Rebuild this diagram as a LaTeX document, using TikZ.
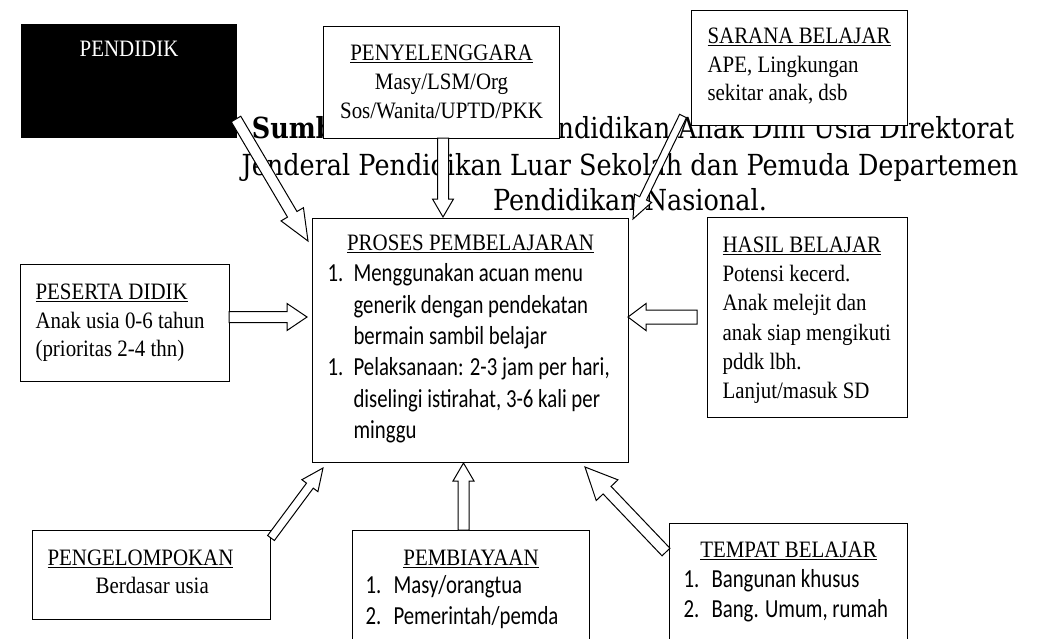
\documentclass[tikz,border=0pt]{standalone}
\usepackage{fontspec}
\setmainfont{Liberation Serif}[FakeStretch=0.89]
\newfontfamily\calfont{Carlito}[FakeStretch=0.8]
\newfontfamily\srcfont{DejaVu Serif}[FakeStretch=0.88]
\usetikzlibrary{calc}
\newcommand\tms{\fontsize{23.5}{29}\selectfont}
\newcommand\clb{\calfont\fontsize{26}{31}\selectfont}
\newcommand\srcsize{\srcfont\fontsize{29}{36}\selectfont}
\newcommand\barrow[5]{%
  \coordinate (bb) at ($(#2)!#5!(#1)$);
  \draw[barrowstyle] ($(#1)!#3!90:(#2)$) -- ($(bb)!#3!90:(#2)$) -- ($(bb)!#4!90:(#2)$) -- (#2)
    -- ($(bb)!#4!-90:(#2)$) -- ($(bb)!#3!-90:(#2)$) -- ($(#1)!#3!-90:(#2)$) -- cycle;}
\tikzset{
  box/.style={draw=black, line width=1.1pt, fill=white, inner sep=0pt, anchor=north west},
  barrowstyle/.style={draw=black, fill=white, line width=1pt, line join=miter},
  srcline/.style={inner sep=0pt, anchor=base, font=\srcsize}
}
\begin{document}
\begin{tikzpicture}[x=1pt, y=-1pt]
\useasboundingbox (0,0) rectangle (1043,638);
\clip (0,0) rectangle (1043,638);
\fill[white] (0,0) rectangle (1043,638);
% source text (behind the boxes)
\node[srcline] (src1) at (633,138) {{\bfseries Sumber:} Direktorat Pendidikan Anak Dini Usia Direktorat};
\node[srcline] (src2) at (630,175) {Jenderal Pendidikan Luar Sekolah dan Pemuda Departemen};
\node[srcline] (src3) at (630,210) {Pendidikan Nasional.};
% boxes
\node[box, fill=black, text=white] (pendidik) at (21,24) {\parbox[c][113pt][t]{215pt}{\centering\tms\rule{0pt}{32pt}PENDIDIK\par}};
\node[box] (peny) at (323,26) {\parbox[c][112pt][t]{236pt}{\centering\tms\baselineskip=29pt
  \rule{0pt}{34pt}\underline{PENYELENGGARA}\\ Masy/LSM/Org\\ Sos/Wanita/UPTD/PKK\par}};
\node[box] (sarana) at (691,10) {\parbox[c][115pt][t]{216pt}{\raggedright\tms\baselineskip=28.5pt\leftskip=16pt
  \rule{0pt}{33pt}\underline{SARANA BELAJAR}\\ APE, Lingkungan\\ sekitar anak, dsb\par}};
\node[box] (proses) at (312,218) {\parbox[c][244pt][t]{316pt}{%
  {\centering\tms\rule{0pt}{32pt}\underline{PROSES PEMBELAJARAN}\par}
  {\raggedright\clb\baselineskip=31.3pt\leftskip=15pt
  \makebox[26pt][l]{1.}Menggunakan acuan menu\\
  \hspace*{26pt}generik dengan pendekatan\\
  \hspace*{26pt}bermain sambil belajar\\
  \makebox[26pt][l]{1.}Pelaksanaan: 2-3 jam per hari,\\
  \hspace*{26pt}diselingi istirahat, 3-6 kali per\\
  \hspace*{26pt}minggu\par}}};
\node[box] (peserta) at (20,264) {\parbox[c][117pt][t]{209pt}{\raggedright\tms\baselineskip=28.5pt\leftskip=15pt
  \rule{0pt}{35pt}\underline{PESERTA DIDIK}\\ Anak usia 0-6 tahun\\ (prioritas 2-4 thn)\par}};
\node[box] (hasil) at (707,217) {\parbox[c][200pt][t]{200pt}{\raggedright\tms\baselineskip=29.2pt\leftskip=15pt
  \rule{0pt}{35pt}\underline{HASIL BELAJAR}\\ Potensi kecerd.\\ Anak melejit dan\\ anak siap mengikuti\\ pddk lbh.\\ Lanjut/masuk SD\par}};
\node[box] (pengel) at (32,530) {\parbox[c][89pt][t]{238pt}{\raggedright\tms\baselineskip=28pt\leftskip=15pt
  \rule{0pt}{35pt}\underline{PENGELOMPOKAN}\\ \hspace*{48pt}Berdasar usia\par}};
\node[box] (pemb) at (352,530) {\parbox[c][140pt][t]{237pt}{%
  {\centering\tms\rule{0pt}{35pt}\underline{PEMBIAYAAN}\par}\vspace{-3pt}
  {\raggedright\clb\baselineskip=31pt\leftskip=13pt
  \makebox[28pt][l]{1.}Masy/orangtua\\
  \makebox[28pt][l]{2.}Pemerintah/pemda\par}}};
\node[box] (tempat) at (669,523) {\parbox[c][140pt][t]{238pt}{%
  {\centering\tms\rule{0pt}{34pt}\underline{TEMPAT BELAJAR}\par}
  {\raggedright\clb\baselineskip=30pt\leftskip=14pt
  \makebox[28pt][l]{1.}Bangunan khusus\\
  \makebox[28pt][l]{2.}Bang. Umum, rumah\par}}};
% arrow end points
\coordinate (a1s) at (236,119);   \coordinate (a1e) at (308,241);
\coordinate (a2s) at (443,138);   \coordinate (a2e) at (443,217);
\coordinate (a3s) at (683,116);   \coordinate (a3e) at (633,219);
\coordinate (a4s) at (229,317);   \coordinate (a4e) at (307,317);
\coordinate (a5s) at (697,317);   \coordinate (a5e) at (628,317);
\coordinate (a6s) at (271,538);   \coordinate (a6e) at (323,468);
\coordinate (a7s) at (463.5,530); \coordinate (a7e) at (463.5,463);
\coordinate (a8s) at (666,552);   \coordinate (a8e) at (585,467);
\barrow{a1s}{a1e}{5.5pt}{13pt}{31pt}
\barrow{a2s}{a2e}{5.5pt}{10.5pt}{18pt}
\barrow{a3s}{a3e}{3.8pt}{9.5pt}{23pt}
\barrow{a4s}{a4e}{5.5pt}{13.5pt}{20pt}
\barrow{a5s}{a5e}{7pt}{13.5pt}{18pt}
\barrow{a6s}{a6e}{4.2pt}{10pt}{22pt}
\barrow{a7s}{a7e}{5.5pt}{10.5pt}{18pt}
\barrow{a8s}{a8e}{5.5pt}{15pt}{32pt}
\end{tikzpicture}
\end{document}
